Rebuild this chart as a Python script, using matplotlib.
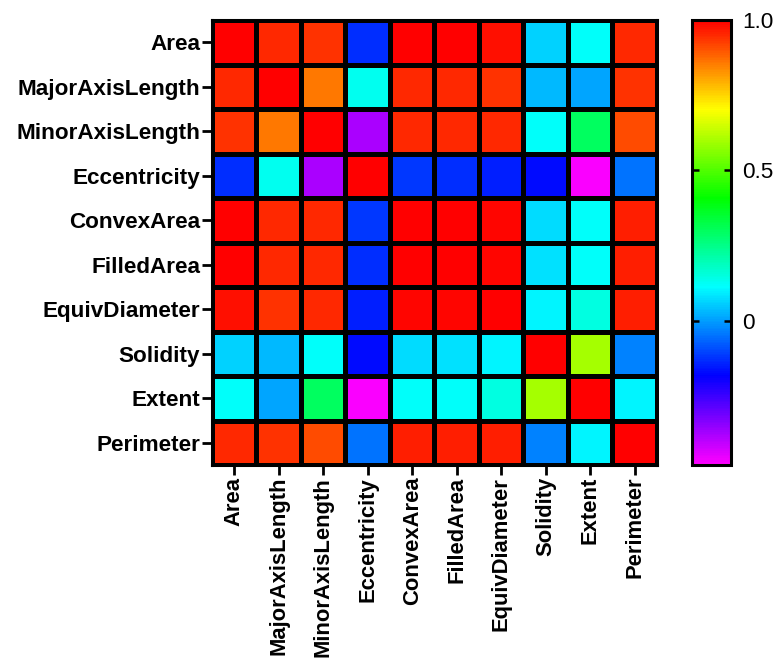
import matplotlib
matplotlib.use("Agg")
import matplotlib.pyplot as plt
import numpy as np
from matplotlib.colors import LinearSegmentedColormap

plt.rcParams['font.family'] = ['Liberation Sans', 'DejaVu Sans']

labels = ['Area', 'MajorAxisLength', 'MinorAxisLength', 'Eccentricity',
          'ConvexArea', 'FilledArea', 'EquivDiameter', 'Solidity',
          'Extent', 'Perimeter']

# correlation values
corr = [
    [1.00, 0.95, 0.94, -0.13, 1.00, 1.00, 0.98, 0.06, 0.12, 0.95],
    [0.95, 1.00, 0.86, 0.13, 0.95, 0.95, 0.94, 0.03, 0.01, 0.94],
    [0.94, 0.86, 1.00, -0.38, 0.95, 0.95, 0.95, 0.12, 0.30, 0.91],
    [-0.13, 0.13, -0.38, 1.00, -0.12, -0.13, -0.15, -0.17, -0.47, -0.05],
    [1.00, 0.95, 0.95, -0.12, 1.00, 1.00, 0.99, 0.07, 0.12, 0.96],
    [1.00, 0.95, 0.95, -0.13, 1.00, 1.00, 0.99, 0.08, 0.12, 0.96],
    [0.98, 0.94, 0.95, -0.15, 0.99, 0.99, 1.00, 0.10, 0.15, 0.96],
    [0.06, 0.03, 0.12, -0.17, 0.07, 0.08, 0.10, 1.00, 0.60, -0.03],
    [0.12, 0.01, 0.30, -0.47, 0.12, 0.12, 0.15, 0.60, 1.00, 0.10],
    [0.95, 0.94, 0.91, -0.05, 0.96, 0.96, 0.96, -0.03, 0.10, 1.00],
]

vmin, vmax = -0.48, 1.0
cmap = LinearSegmentedColormap.from_list(
    'rb', ['#ff00ff', '#0000ff', '#00ffff', '#00ff00', '#ffff00', '#ff0000'])

fig = plt.figure(figsize=(7.8, 6.61), dpi=100)
ax = fig.add_axes([212 / 780, 1 - 465 / 661, 445 / 780, 445 / 661])
cax = fig.add_axes([692 / 780, 1 - 465 / 661, 39 / 780, 445 / 661])

data = np.array(corr)
mesh = ax.pcolormesh(data, cmap=cmap, vmin=vmin, vmax=vmax,
                     edgecolors='black', linewidth=2.2)
ax.set_xlim(0, len(labels))
ax.set_ylim(len(labels), 0)
ax.set_xticks(np.arange(len(labels)) + 0.5)
ax.set_yticks(np.arange(len(labels)) + 0.5)
ax.set_xticklabels(labels, rotation=90, fontsize=15.8, fontweight='bold')
ax.set_yticklabels(labels, fontsize=16.2, fontweight='bold')
ax.tick_params(length=7, width=2, pad=1.5)
for s in ax.spines.values():
    s.set_linewidth(2.2)

cb = fig.colorbar(mesh, cax=cax)
cb.set_ticks([0, 0.5, 1.0])
cb.set_ticklabels(['0', '0.5', '1.0'])
cb.outline.set_linewidth(2.2)
cax.tick_params(direction='in', left=True, right=True, length=5, width=1.8,
                labelsize=16.2, pad=8)

plt.savefig('out.png', dpi=100)
